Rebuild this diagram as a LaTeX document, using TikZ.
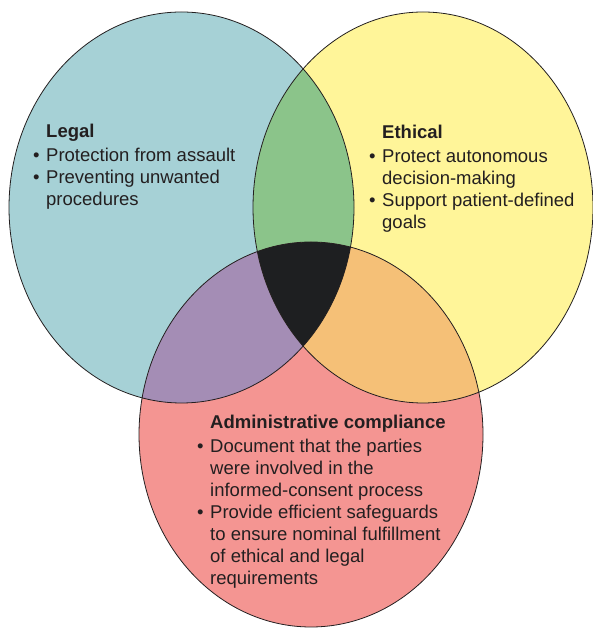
\documentclass[tikz,border=0pt]{standalone}
\usepackage{fontspec}
\setmainfont{Liberation Sans}
\usepackage{tikz}
\usetikzlibrary{positioning}
\definecolor{ink}{HTML}{231F20}
\definecolor{clegal}{HTML}{A6D1D6}
\definecolor{cethic}{HTML}{FFF599}
\definecolor{cadmin}{HTML}{F49592}
\definecolor{clegeth}{HTML}{8BC48A}
\definecolor{clegadm}{HTML}{A48DB5}
\definecolor{cethadm}{HTML}{F5C077}
\definecolor{call}{HTML}{1E1F21}
\tikzset{
  rimleg/.style={x radius=172.5pt,y radius=195.5pt},
  rimeth/.style={x radius=170pt,y radius=195.5pt},
  rimadm/.style={x radius=172pt,y radius=192.5pt},
  rim/.style={draw=ink,line width=0.8pt},
  txt/.style={anchor=base west,align=left,inner sep=0pt,text=ink,font=\fontsize{18.5}{22}\selectfont},
}
\newcommand{\bul}{\llap{\textbullet\hspace{6.5pt}}}
\begin{document}
\begin{tikzpicture}[x=1pt,y=1pt]
  \useasboundingbox (0,0) rectangle (592,628);
  \coordinate (legal) at (181.5,420.5);
  \coordinate (ethic) at (423,420.5);
  \coordinate (admin) at (311,193.5);
  % the three sets
  \fill[clegal] (legal) ellipse[rimleg];
  \fill[cethic] (ethic) ellipse[rimeth];
  \fill[cadmin] (admin) ellipse[rimadm];
  % overlaps
  \begin{scope}
    \clip (legal) ellipse[rimleg];
    \fill[clegeth] (ethic) ellipse[rimeth];
    \fill[clegadm] (admin) ellipse[rimadm];
  \end{scope}
  \begin{scope}
    \clip (ethic) ellipse[rimeth];
    \fill[cethadm] (admin) ellipse[rimadm];
  \end{scope}
  \begin{scope}
    \clip (legal) ellipse[rimleg];
    \clip (ethic) ellipse[rimeth];
    \fill[call] (admin) ellipse[rimadm];
  \end{scope}
  \draw[rim] (legal) ellipse[rimleg];
  \draw[rim] (ethic) ellipse[rimeth];
  \draw[rim] (admin) ellipse[rimadm];
  % labels (base = last line)
  \node[txt] (tlegal) at (46,422) {\textbf{Legal}\\[2pt]
    \bul Protection from assault\\
    \bul Preventing unwanted\\
    procedures};
  \node[txt] (tethic) at (382,399) {\textbf{Ethical}\\[2pt]
    \bul Protect autonomous\\
    decision-making\\
    \bul Support patient-defined\\
    goals};
  \node[txt] (tadmin) at (210,43) {\textbf{Administrative compliance}\\[2pt]
    \bul Document that the parties\\
    were involved in the\\
    informed-consent process\\
    \bul Provide efficient safeguards\\
    to ensure nominal fulfillment\\
    of ethical and legal\\
    requirements};
\end{tikzpicture}
\end{document}
